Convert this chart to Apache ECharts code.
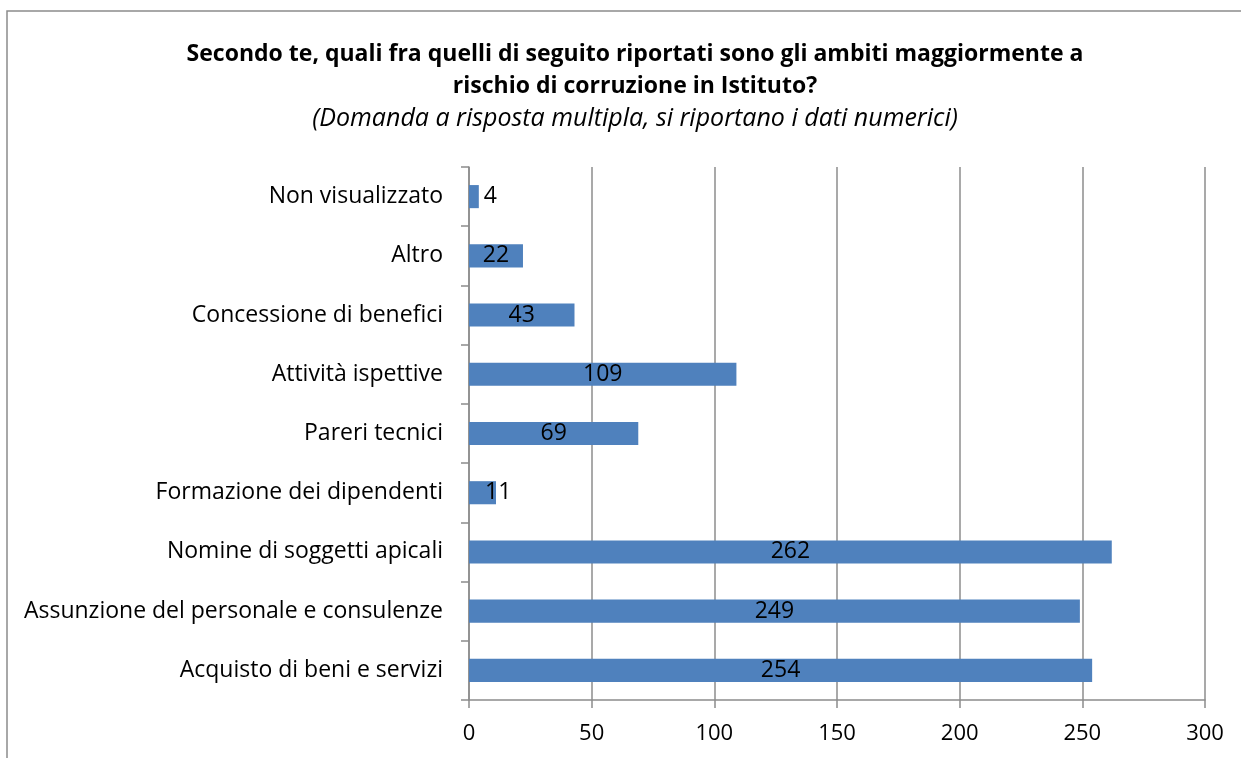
<!DOCTYPE html>
<html>
<head>
<meta charset="utf-8">
<script src="https://cdn.jsdelivr.net/npm/echarts@6/dist/echarts.min.js"></script>
<style>
  html, body { margin: 0; padding: 0; background: #fff; }
  #chart { width: 1241px; height: 758px; }
</style>
</head>
<body>
<div id="chart"></div>
<script>
// dati (dal basso verso l'alto)
const categories = [
  "Acquisto di beni e servizi",
  "Assunzione del personale e consulenze",
  "Nomine di soggetti apicali",
  "Formazione dei dipendenti",
  "Pareri tecnici",
  "Attività ispettive",
  "Concessione di benefici",
  "Altro",
  "Non visualizzato"
];
const values = [254, 249, 262, 11, 69, 109, 43, 22, 4];
const xTicks = [0, 50, 100, 150, 200, 250, 300];

const titleText = "Secondo te, quali fra quelli di seguito riportati sono gli ambiti maggiormente a\nrischio di corruzione in Istituto?";
const subText = "(Domanda a risposta multipla, si riportano i dati numerici)";

const font = "Open Sans";
const chart = echarts.init(document.getElementById("chart"));

// etichette: centrate, ma le barre corte le spostano a destra
const barData = values.map(function (v) {
  if (v < 8) {
    return { value: v, label: { position: "right", distance: 5 } };
  }
  if (v < 20) {
    return { value: v, label: { position: "insideLeft", distance: 16 } };
  }
  return v;
});

chart.setOption({
  backgroundColor: "#fff",
  animation: false,
  title: [
    {
      text: titleText,
      left: 630,
      top: 33,
      textAlign: "center",
      textStyle: {
        fontFamily: font,
        fontWeight: "bold",
        fontSize: 23,
        lineHeight: 32,
        color: "#000"
      }
    },
    {
      text: subText,
      left: 630,
      top: 101,
      textAlign: "center",
      textStyle: {
        fontFamily: font,
        fontStyle: "italic",
        fontWeight: "normal",
        fontSize: 25,
        color: "#000"
      }
    }
  ],
  graphic: [
    {
      type: "rect",
      shape: { x: 7, y: 11, width: 1400, height: 900 },
      style: { fill: "none", stroke: "#8c8c8c", lineWidth: 1.5 },
      silent: true
    }
  ],
  grid: {
    left: 469,
    right: 36,
    top: 167,
    bottom: 58
  },
  xAxis: {
    type: "value",
    min: 0,
    max: 300,
    interval: 50,
    axisLine: { show: true, lineStyle: { color: "#8c8c8c", width: 1.5 } },
    axisTick: { show: true, length: 8, lineStyle: { color: "#8c8c8c", width: 1.5 } },
    splitLine: { show: true, lineStyle: { color: "#8c8c8c", width: 1.5 } },
    axisLabel: {
      fontFamily: font,
      fontSize: 22,
      color: "#000",
      margin: 23,
      formatter: function (v) { return xTicks.indexOf(v) >= 0 ? String(v) : ""; }
    }
  },
  yAxis: {
    type: "category",
    data: categories,
    axisLine: { show: true, lineStyle: { color: "#8c8c8c", width: 1.5 } },
    axisTick: { show: true, length: 8, lineStyle: { color: "#8c8c8c", width: 1.5 } },
    axisLabel: {
      fontFamily: font,
      fontSize: 23,
      color: "#000",
      margin: 26
    }
  },
  series: [
    {
      type: "bar",
      data: barData,
      barCategoryGap: "61%",
      itemStyle: { color: "#4f81bd" },
      label: {
        show: true,
        position: "inside",
        fontFamily: font,
        fontSize: 23,
        color: "#000"
      }
    }
  ]
});
</script>
</body>
</html>
